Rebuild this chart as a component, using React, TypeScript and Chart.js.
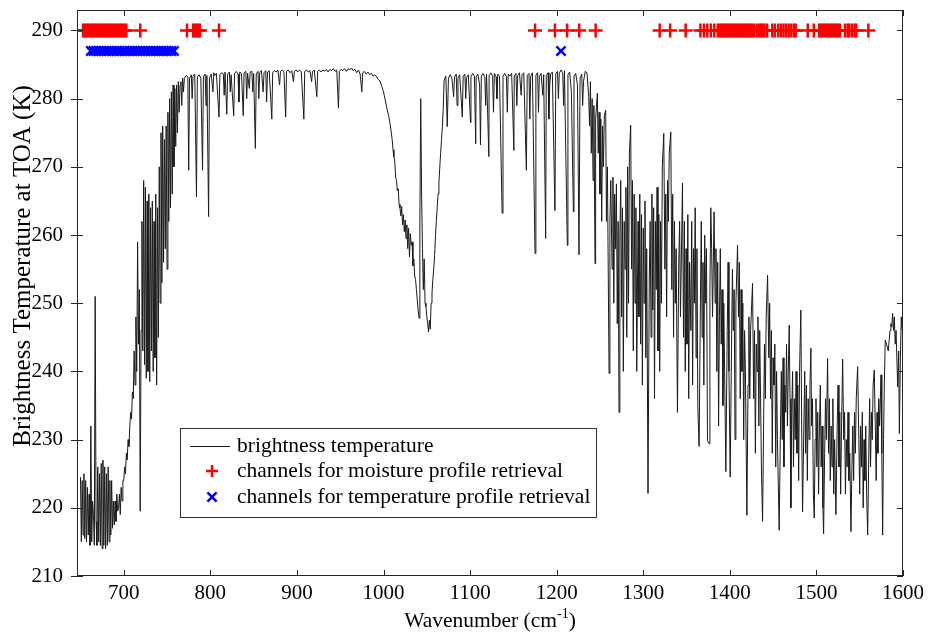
import React, { useEffect, useRef } from 'react';
import { Chart, registerables } from 'chart.js';

Chart.register(...registerables);

const FONT = '"Liberation Serif", "Times New Roman", Times, serif';

// ---- axis setup -------------------------------------------------------
const X_MIN = 646;
const X_MAX = 1600;
const Y_MIN = 210;
const Y_MAX = 293;
const X_STEP = 100;
const Y_STEP = 10;

const xTitleMain = 'Wavenumber (cm';
const xTitleSup = '-1';
const xTitleEnd = ')';
const yTitle = 'Brightness Temperature at TOA (K)';
const legendLabels = [
  'brightness temperature',
  'channels for moisture profile retrieval',
  'channels for temperature profile retrieval',
];

// ---- channel markers (plotted at constant height) ---------------------
const MOISTURE_Y = 290;
const TEMPERATURE_Y = 287;
const moistureChannels = [
  653, 655, 657, 659, 661, 663, 665, 667, 669, 671, 673, 675, 677, 679, 681, 683, 685, 687,
  689, 691, 693, 695, 697, 699, 701, 703, 719,
  773, 780, 782, 784, 786, 788, 810,
  1175, 1198, 1212, 1226, 1245,
  1319, 1331, 1349, 1366, 1370, 1374, 1378, 1382, 1386, 1388, 1390, 1392, 1394, 1396, 1398,
  1400, 1402, 1404, 1406, 1408, 1410, 1412, 1414, 1416, 1418, 1420, 1422, 1424, 1426, 1428,
  1431, 1434, 1436, 1438, 1440, 1443, 1449, 1452, 1456, 1459, 1462, 1465, 1468, 1471, 1474,
  1476, 1490, 1497, 1503, 1505, 1507, 1509, 1511, 1513, 1515, 1517, 1519, 1521, 1523, 1525,
  1527, 1533, 1536, 1538, 1541, 1544, 1546, 1560,
];
const temperatureChannels = [
  662, 665, 668, 671, 674, 677, 680, 683, 686, 689, 692, 695, 698, 701, 704, 707, 710, 713,
  716, 719, 722, 725, 728, 731, 734, 737, 740, 743, 746, 749, 752, 755, 758, 1205,
];

// ---- spectrum: [wavenumber cm-1, brightness temperature K] -------------
const co2Band: [number, number][] = [
  [650, 224.5], [651, 215], [652, 224], [653, 216], [654, 225], [655, 215.5], [656, 224], [657, 215], [658, 223], [659, 216],
  [660, 222], [661, 214.5], [662, 232], [663, 215], [664, 221], [665, 219], [666, 214.5], [667, 251], [668, 218], [669, 214.5],
  [670, 226], [671, 215], [672, 225], [673, 214.5], [674, 226.5], [675, 214], [676, 227], [677, 214.5], [678, 226], [679, 214],
  [680, 225], [681, 214.5], [682, 226], [683, 215], [684, 224], [685, 216], [686, 224], [687, 217], [688, 221], [689, 217.5],
  [690, 221], [691, 218], [692, 222], [693, 219.5], [694, 220], [695, 222], [696, 219], [697, 223], [698, 221], [699, 224],
  [700, 224], [701, 226], [702, 225], [703, 228], [704, 227], [705, 230], [706, 229], [707, 232], [708, 234], [709, 233],
  [710, 237], [711, 236], [712, 243], [713, 238], [714, 248], [715, 240], [716, 259], [717, 244], [718, 252], [719, 219.5],
  [720, 246], [721, 262], [722, 243], [723, 268], [724, 241], [725, 267], [726, 239], [727, 265], [728, 240], [729, 266],
  [730, 238.5], [731, 264], [732, 243], [733, 265], [734, 240], [735, 262], [736, 242], [737, 266], [738, 238], [739, 264],
  [740, 245], [741, 270], [742, 250], [743, 275], [744, 253], [745, 276], [746, 256], [747, 274], [748, 258], [749, 276],
  [750, 255], [751, 278], [752, 262], [753, 280], [754, 264], [755, 281], [756, 266], [757, 282], [758, 270], [759, 281.5],
  [760, 273], [761, 282], [762, 275], [763, 282.5], [764, 278], [765, 282], [766, 282.5], [767, 279], [768, 283], [769, 281],
];

const windowRegion: [number, number][] = [
  [770, 283.0], [772, 283.4], [774, 283.2], [775, 269.5], [776, 283.0], [778, 283.5], [779, 280.0], [780, 283.3], [782, 283.6],
  [784, 265.6], [785, 283.2], [787, 283.5], [789, 283.0], [791, 269.5], [792, 283.2], [794, 283.6], [795, 279.0], [796, 283.4],
  [798, 262.7], [799, 283.0], [801, 283.6], [803, 281.0], [804, 283.8], [805, 283.4], [807, 283.7], [810, 277.3], [811, 283.5],
  [813, 283.8], [815, 283.6], [816, 280.5], [817, 283.9], [819, 277.7], [820, 283.6], [822, 283.9], [823, 281.0], [824, 283.5],
  [827, 277.5], [828, 283.7], [830, 284.0], [832, 283.6], [833, 279.5], [834, 283.9], [836, 283.7], [838, 277.5], [839, 283.8],
  [841, 284.0], [842, 280.0], [843, 283.7], [845, 281.5], [846, 283.9], [848, 284.0], [849, 281.0], [850, 283.7], [852, 272.7],
  [853, 283.6], [855, 284.0], [856, 280.0], [857, 283.8], [859, 284.1], [861, 281.0], [862, 283.8], [864, 284.1], [865, 279.5],
  [866, 283.9], [868, 284.1], [871, 277.0], [872, 283.8], [874, 284.1], [876, 283.9], [878, 284.2], [880, 282.0], [881, 284.0],
  [883, 284.2], [885, 284.0], [887, 277.3], [888, 284.0], [890, 284.2], [892, 283.8], [894, 284.1], [896, 282.5], [897, 284.0],
  [899, 284.2], [901, 283.9], [903, 284.2], [905, 284.0], [908, 277.0], [909, 284.0], [911, 284.2], [913, 283.9], [915, 284.1],
  [917, 282.5], [918, 284.0], [920, 284.2], [923, 280.3], [924, 284.0], [926, 284.2], [928, 283.9], [930, 284.2],
  [932, 284.0], [934, 284.3], [936, 283.9], [938, 284.3], [940, 284.1], [942, 284.4], [944, 284.0], [946, 284.2],
  [948, 278.6], [949, 284.0], [951, 284.3], [953, 284.1], [955, 284.4], [957, 284.0], [959, 284.4], [961, 284.2],
  [963, 284.5], [965, 284.1], [967, 284.3], [969, 283.8], [971, 284.2], [973, 283.6], [975, 281.0], [976, 283.8],
  [978, 284.0], [980, 283.6], [982, 283.9], [984, 283.5], [986, 283.7], [988, 283.3], [990, 283.5],
];

const ozoneBand: [number, number][] = [
  [992, 283.2], [994, 282.8], [996, 282.6], [998, 281.8], [1000, 281.0], [1002, 279.8], [1004, 278.5], [1006, 277.5],
  [1008, 276.0], [1010, 274.0], [1011, 272.5], [1012, 271.5], [1013, 270.8], [1014, 268.5], [1015, 268.0], [1016, 266.5],
  [1017, 266.8], [1018, 264.5], [1019, 264.0], [1020, 262.8], [1021, 264.2], [1022, 261.5], [1023, 263.0], [1024, 260.5],
  [1025, 262.2], [1026, 259.5], [1027, 261.5], [1028, 258.0], [1029, 261.0], [1030, 256.8], [1031, 260.2], [1032, 258.5],
  [1033, 259.0], [1034, 255.5], [1035, 256.5], [1036, 254.0], [1037, 253.5], [1038, 252.0], [1039, 250.5], [1040, 249.0],
  [1041, 247.8], [1042, 262.0], [1043, 280.0], [1044, 266.0], [1045, 258.0], [1046, 252.0], [1047, 256.5], [1048, 250.0],
  [1049, 249.5], [1050, 248.0], [1051, 247.0], [1052, 245.8], [1053, 247.5], [1054, 246.2], [1055, 250.0], [1056, 251.5],
  [1057, 253.5], [1058, 255.0], [1059, 257.0], [1060, 259.7], [1061, 262.0], [1062, 264.0], [1063, 266.0], [1064, 267.6],
  [1065, 270.0], [1066, 272.0], [1067, 274.0], [1068, 275.9], [1069, 278.5], [1070, 282.7], [1072, 283.3], [1073.6, 275.9],
  [1075, 283.0],
];

const window2Region: [number, number][] = [
  [1077, 283.5], [1079, 283.0], [1081, 280.3], [1082, 283.2], [1084, 283.6], [1085, 279.0], [1086, 283.0], [1088, 283.5],
  [1091, 277.3], [1092, 283.3], [1094, 283.6], [1095, 280.0], [1096, 283.1], [1098, 283.5], [1100.5, 276.5], [1101, 283.2],
  [1103, 283.7], [1105, 283.3], [1106.5, 273.4], [1107, 283.2], [1109, 283.6], [1111, 282.0], [1112, 273.2], [1113, 283.3],
  [1115, 283.7], [1117, 283.2], [1118, 279.0], [1119, 283.6], [1121.7, 271.5], [1122, 283.4], [1124, 283.8], [1126, 283.3],
  [1127, 278.0], [1128, 283.7], [1130, 283.2], [1131, 280.0], [1132, 283.6], [1134, 283.3], [1137, 263.2], [1138, 283.3],
  [1140, 283.7], [1142, 283.2], [1143, 278.0], [1144, 283.6], [1146, 283.3], [1148, 283.7], [1150.6, 272.4], [1151, 283.3],
  [1153, 283.7], [1154, 279.0], [1155, 283.4], [1157, 283.8], [1159, 280.5], [1160, 283.5], [1162, 283.8], [1165, 269.5],
  [1166, 283.4], [1168, 283.7], [1169, 277.0], [1170, 283.3], [1172, 283.8], [1175, 257.3], [1176, 283.4], [1178, 283.8],
  [1179, 278.0], [1180, 283.3], [1182, 283.7], [1184, 280.5], [1185, 283.5], [1187.3, 259.5], [1188, 283.4], [1190, 283.8],
  [1191, 277.0], [1192, 282.0], [1193, 283.6], [1195, 283.9], [1198, 263.6], [1199, 283.7], [1201, 284.0], [1202, 280.0],
  [1203, 283.7], [1205, 284.2], [1207, 283.8], [1208, 279.0], [1209, 284.1], [1212.3, 258.5], [1213, 283.5], [1215, 283.9],
  [1217, 281.0], [1219.3, 263.4], [1220, 283.3], [1222, 283.7], [1224, 282.0], [1225.8, 257.1], [1227, 283.0], [1229, 283.6],
  [1230, 279.0], [1231, 282.5], [1233, 284.0], [1235, 283.8],
];

const waterVaporEdge: [number, number][] = [
  [1237, 280.3], [1238, 276], [1239, 282.5], [1240, 272], [1241, 280], [1242, 268], [1243, 279], [1244.3, 255.8],
  [1245, 277], [1247, 280.8], [1248, 272], [1249, 278], [1250, 266], [1251, 277], [1252, 262], [1253, 276],
  [1254, 270], [1255, 277.5], [1256.6, 278.3], [1257.5, 262], [1258.6, 270], [1260.5, 239.7], [1261.5, 262], [1262.5, 268],
  [1264, 255], [1265, 268.5], [1266, 250], [1267, 266], [1268, 258], [1269, 267.5], [1270, 247], [1271, 262],
  [1272, 234], [1273, 260], [1274, 268], [1275, 248], [1276, 264], [1277, 240], [1278, 262], [1279, 255],
  [1280, 267], [1281, 245], [1282, 270], [1283, 250], [1284, 272], [1285.5, 276.1], [1286.5, 255], [1287.5, 268],
  [1288.5, 243], [1289.5, 266], [1290.5, 250], [1291.5, 264], [1292.5, 240], [1294, 262], [1295, 248], [1296, 266],
  [1297, 244], [1298, 263], [1299, 238], [1300, 261], [1301, 250], [1302, 265], [1303, 242], [1304, 258],
  [1305.5, 222.1], [1307, 254], [1308, 262], [1309, 245], [1310, 266], [1311, 249], [1312, 264], [1313, 236],
  [1314, 262], [1315, 252], [1316, 267], [1317, 243], [1318, 263], [1319, 240], [1320, 262], [1321, 250],
  [1322, 270], [1323.7, 274.9], [1325, 255], [1326, 266], [1327, 248], [1328, 268], [1329, 262], [1330, 272],
  [1331.8, 275.1], [1333, 252], [1334, 266], [1335, 245], [1336, 262], [1337, 250], [1338, 258], [1339.5, 234],
  [1341, 256], [1342, 262], [1343, 248], [1345.3, 267.6], [1346.5, 245], [1347.5, 262], [1348.5, 240], [1349.5, 258],
  [1350.5, 244], [1351.5, 263], [1352.5, 236], [1353.5, 256], [1355, 246], [1356, 262], [1357, 238], [1358, 258],
  [1359, 250], [1360, 264], [1361, 242], [1362, 258], [1363, 235], [1364.5, 229], [1366, 250], [1367, 262],
  [1368, 245], [1369, 256], [1370, 238], [1371, 260], [1372, 250], [1373, 258], [1374.2, 229.9], [1376, 229.4],
  [1377, 252], [1378, 264],
];

const waterVaporBand: [number, number][] = [
  [1379, 258], [1380, 248], [1381.8, 263.4], [1383, 250], [1384, 258], [1385, 240], [1386, 256], [1387, 232],
  [1388, 248], [1389, 258], [1390, 244], [1391, 252], [1392, 235], [1393, 250], [1394, 240], [1395.4, 225.3],
  [1397, 246], [1398, 256], [1399, 240], [1400.4, 224.5], [1402, 244], [1403, 255], [1404, 246], [1405, 252],
  [1406, 230], [1407, 250], [1408.9, 258.5], [1410, 248], [1411, 256], [1412, 236], [1413, 252], [1414, 240],
  [1415, 250], [1416, 230], [1417, 246], [1418, 240], [1419.7, 218.9], [1421, 238], [1422, 248], [1423, 236],
  [1424, 246], [1426.2, 252.9], [1427.5, 236], [1428.5, 246], [1429.5, 228], [1430.5, 244], [1431.5, 240], [1432.5, 248],
  [1433.5, 232], [1434.5, 246], [1435.5, 236], [1436.5, 226], [1437.8, 218], [1439, 232], [1440, 244], [1441, 236],
  [1442, 248], [1443.6, 254.1], [1445, 242], [1446, 250], [1447, 236], [1448, 246], [1449, 228], [1450, 242],
  [1451, 238], [1452, 244], [1453, 226], [1454, 240], [1455, 230], [1457, 216.7], [1458.5, 232], [1459.5, 240],
  [1460.5, 230], [1461.5, 242], [1462.5, 226], [1463.5, 238], [1464.5, 234], [1465.5, 244], [1466.5, 232], [1467.5, 240],
  [1468.6, 246.8], [1469.5, 236], [1470.5, 220], [1471.5, 234], [1472.5, 240], [1473.5, 226], [1474.5, 236], [1475.5, 230],
  [1476.5, 240], [1477.5, 228], [1478.5, 238], [1479.5, 224], [1480.5, 240], [1482, 249], [1483, 232], [1484, 219.4],
  [1485.5, 232], [1486.5, 240], [1487.5, 228], [1488.5, 238], [1489.5, 224], [1490.5, 236], [1491.5, 230], [1492.5, 238],
  [1493.6, 243.4], [1494.5, 232], [1495.5, 236], [1496.5, 222], [1497.5, 218.5], [1498.5, 230], [1499.5, 236], [1500.5, 226],
  [1501.5, 234], [1502.5, 222], [1503.5, 232], [1504.5, 238], [1505.5, 226], [1506.5, 232], [1507.5, 220], [1508.3, 216.2],
  [1509.5, 228], [1510.5, 236], [1511.5, 230], [1512.9, 241.9], [1514, 228], [1515, 236], [1516, 224], [1517, 232],
  [1518, 226], [1519, 236], [1520, 222], [1521, 230], [1522.5, 219], [1524, 232], [1525, 238], [1526, 226],
  [1527, 234], [1528, 222], [1529, 232], [1530.3, 241.8], [1531.5, 230], [1532.5, 234], [1533.5, 222], [1534.5, 230],
  [1535.5, 226], [1536.5, 234], [1537.5, 224], [1538.5, 228], [1539.9, 216.5], [1541, 226], [1542, 232], [1543, 224],
  [1544, 234], [1545, 228], [1546, 236], [1547.6, 240.7], [1549, 230], [1550, 222], [1551, 232], [1552, 226],
  [1553, 234], [1554, 220], [1555, 230], [1556, 224], [1557, 232], [1558, 222], [1559.2, 216], [1560.5, 228],
  [1561.5, 236], [1562.5, 226], [1563.5, 234], [1564.5, 230], [1565.5, 238], [1566.8, 240.2], [1568, 232], [1569, 224],
  [1570, 234], [1571, 228], [1572, 236], [1573, 232], [1574.6, 239.5], [1575.5, 228], [1576.5, 216], [1577.5, 230],
  [1578.4, 238], [1579.5, 244.6], [1581, 244], [1583, 243], [1585, 246], [1586, 247], [1587, 246.5], [1588, 248.5],
  [1589, 246], [1590, 248], [1591, 244], [1592, 246], [1593.9, 237.7], [1595, 243], [1595.8, 230.9], [1597, 242],
  [1598, 248], [1599, 246], [1599.7, 249.5], [1600, 248],
];

const spectrum = [
  ...co2Band, ...windowRegion, ...ozoneBand, ...window2Region, ...waterVaporEdge, ...waterVaporBand,
].map(([x, y]) => ({ x, y }));

// ---- drawing helpers ---------------------------------------------------
function drawCross(ctx: CanvasRenderingContext2D, x: number, y: number, r: number, color: string) {
  ctx.save();
  ctx.strokeStyle = color;
  ctx.lineWidth = 2.5;
  ctx.beginPath();
  ctx.moveTo(x - r, y); ctx.lineTo(x + r, y);
  ctx.moveTo(x, y - r); ctx.lineTo(x, y + r);
  ctx.stroke();
  ctx.restore();
}
function drawX(ctx: CanvasRenderingContext2D, x: number, y: number, r: number, color: string) {
  ctx.save();
  ctx.strokeStyle = color;
  ctx.lineWidth = 2.5;
  ctx.beginPath();
  ctx.moveTo(x - r, y - r); ctx.lineTo(x + r, y + r);
  ctx.moveTo(x - r, y + r); ctx.lineTo(x + r, y - r);
  ctx.stroke();
  ctx.restore();
}

const matlabFrame = {
  id: 'matlabFrame',
  afterDraw(chart: any) {
    const { ctx, chartArea } = chart;
    const { left, right, top, bottom } = chartArea;
    const xs = chart.scales.x;
    const ys = chart.scales.y;
    ctx.save();
    // frame
    ctx.strokeStyle = '#262626';
    ctx.lineWidth = 1;
    ctx.strokeRect(left + 0.5, top + 0.5, right - left - 1, bottom - top - 1);
    // ticks
    const TL = 6;
    ctx.beginPath();
    xs.ticks.forEach((t: any) => {
      const px = Math.round(xs.getPixelForValue(t.value)) + 0.5;
      ctx.moveTo(px, bottom); ctx.lineTo(px, bottom - TL);
      ctx.moveTo(px, top); ctx.lineTo(px, top + TL);
    });
    ys.ticks.forEach((t: any) => {
      const py = Math.round(ys.getPixelForValue(t.value)) + 0.5;
      ctx.moveTo(left - TL, py); ctx.lineTo(left + TL, py);
      ctx.moveTo(right, py); ctx.lineTo(right - TL, py);
    });
    ctx.stroke();

    // legend
    const lx = 180, ly = 428, lw = 416, lh = 89;
    ctx.fillStyle = '#ffffff';
    ctx.fillRect(lx, ly, lw, lh);
    ctx.strokeStyle = '#333333';
    ctx.strokeRect(lx + 0.5, ly + 0.5, lw, lh);
    const rows = [446, 471, 497];
    ctx.strokeStyle = '#1a1a1a';
    ctx.lineWidth = 1;
    ctx.beginPath();
    ctx.moveTo(190, rows[0] + 0.5); ctx.lineTo(230, rows[0] + 0.5);
    ctx.stroke();
    drawCross(ctx, 212, rows[1], 6, '#ff0000');
    drawX(ctx, 212, rows[2], 4.6, '#0000ff');
    ctx.fillStyle = '#000000';
    ctx.font = `21.5px ${FONT}`;
    ctx.textAlign = 'left';
    ctx.textBaseline = 'middle';
    legendLabels.forEach((lab, i) => ctx.fillText(lab, 237, rows[i]));

    // x title with superscript
    const mainFont = `21.5px ${FONT}`;
    const supFont = `14px ${FONT}`;
    ctx.font = mainFont;
    const w1 = ctx.measureText(xTitleMain).width;
    const w3 = ctx.measureText(xTitleEnd).width;
    ctx.font = supFont;
    const w2 = ctx.measureText(xTitleSup).width;
    const total = w1 + w2 + w3;
    let cx = (left + right) / 2 - total / 2;
    const base = 627;
    ctx.textBaseline = 'alphabetic';
    ctx.font = mainFont;
    ctx.fillText(xTitleMain, cx, base);
    cx += w1;
    ctx.font = supFont;
    ctx.fillText(xTitleSup, cx, base - 9);
    cx += w2;
    ctx.font = mainFont;
    ctx.fillText(xTitleEnd, cx, base);

    // y title
    ctx.save();
    ctx.translate(23, 266);
    ctx.rotate(-Math.PI / 2);
    ctx.font = `25px ${FONT}`;
    ctx.textAlign = 'center';
    ctx.textBaseline = 'middle';
    ctx.fillText(yTitle, 0, 0);
    ctx.restore();

    ctx.restore();
  },
};

export default function App() {
  const ref = useRef<HTMLCanvasElement>(null);
  useEffect(() => {
    document.body.style.margin = '0';
    const canvas = ref.current!;
    const chart = new Chart(canvas, {
      type: 'line',
      data: {
        datasets: [
          {
            type: 'scatter',
            label: legendLabels[1],
            data: moistureChannels.map((x) => ({ x, y: MOISTURE_Y })),
            pointStyle: 'cross',
            pointRadius: 7,
            pointBorderColor: '#ff0000',
            pointBackgroundColor: '#ff0000',
            pointBorderWidth: 2.5,
            showLine: false,
          },
          {
            type: 'scatter',
            label: legendLabels[2],
            data: temperatureChannels.map((x) => ({ x, y: TEMPERATURE_Y })),
            pointStyle: 'crossRot',
            pointRadius: 6.5,
            pointBorderColor: '#0000ff',
            pointBackgroundColor: '#0000ff',
            pointBorderWidth: 2.5,
            showLine: false,
          },
          {
            type: 'line',
            label: legendLabels[0],
            data: spectrum,
            borderColor: '#1a1a1a',
            borderWidth: 1,
            pointRadius: 0,
            tension: 0,
            fill: false,
          },
        ],
      },
      options: {
        animation: false,
        responsive: false,
        events: [],
        layout: { padding: { top: 10, right: 25, left: 0, bottom: 0 } },
        plugins: { legend: { display: false }, tooltip: { enabled: false }, title: { display: false } },
        scales: {
          x: {
            type: 'linear',
            min: X_MIN,
            max: X_MAX,
            grid: { display: false },
            border: { display: false },
            ticks: {
              stepSize: X_STEP,
              includeBounds: false,
              autoSkip: false,
              maxRotation: 0,
              padding: -3,
              color: '#000',
              font: { family: FONT, size: 21 },
              callback: (v: any) => String(v),
            },
            afterFit: (s: any) => {
              s.height = 58;
              s.paddingLeft = 0;
              s.paddingRight = 0;
            },
          },
          y: {
            type: 'linear',
            min: Y_MIN,
            max: Y_MAX,
            grid: { display: false },
            border: { display: false },
            ticks: {
              stepSize: Y_STEP,
              includeBounds: false,
              autoSkip: false,
              padding: 6,
              color: '#000',
              font: { family: FONT, size: 21 },
              callback: (v: any) => String(v),
            },
            afterFit: (s: any) => {
              s.width = 77;
              s.paddingTop = 0;
              s.paddingBottom = 0;
            },
          },
        },
      },
      plugins: [matlabFrame],
    } as any);
    return () => chart.destroy();
  }, []);
  return <canvas ref={ref} width={928} height={634} style={{ display: 'block', width: 928, height: 634 }} />;
}
